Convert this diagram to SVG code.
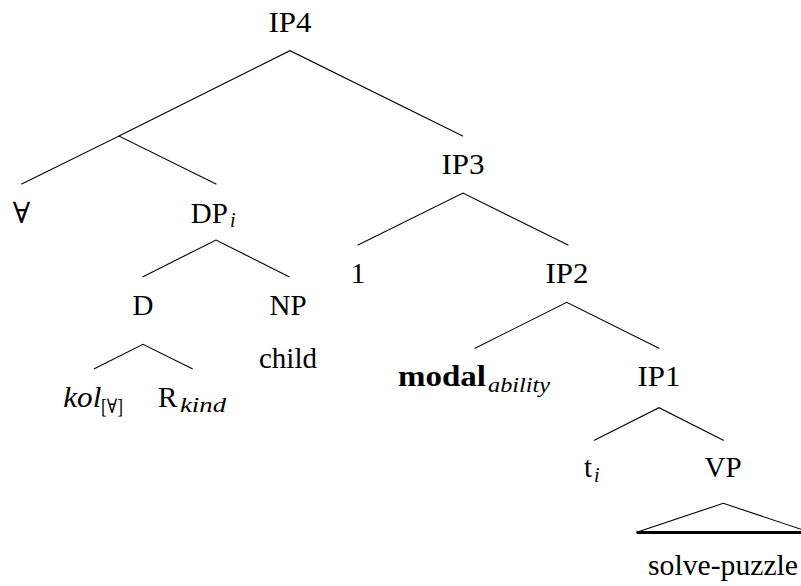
<svg xmlns="http://www.w3.org/2000/svg" width="801" height="586" viewBox="0 0 801 586">
<style>
text{font-family:'Liberation Serif','Times New Roman',Times,'DejaVu Serif',serif;font-size:29px;fill:#000}
.m{text-anchor:middle}
.it{font-style:italic}
.sub{font-size:20px}
.b{font-weight:bold}
.e{stroke:#000;stroke-width:1.1;fill:none;stroke-linecap:round}
.base{stroke:#000;stroke-width:2.8;fill:none}
</style>
<rect width="801" height="586" fill="#fff"/>
<g id="connectors">
<path class="e" d="M119,136 L290,50.7 L462.7,136"/>
<path class="e" d="M21.7,184 L119,136 L216,184"/>
<path class="e" d="M143,276.7 L216,240 L289,276.7"/>
<path class="e" d="M94.3,368.7 L143,344.3 L192.3,368.7"/>
<path class="e" d="M358,245 L463,193 L568,245"/>
<path class="e" d="M475,348.3 L566.7,302.3 L659,348.3"/>
<path class="e" d="M594.3,440.3 L659,407.7 L723.3,440.3"/>
<path class="e" d="M636.7,532.3 L723.3,503.3 L810,532.3"/>
<path class="base" d="M636.7,532.5 L810,532.5"/>
</g>
<g id="IP4"><text class="m" x="290" y="31.7" textLength="43" lengthAdjust="spacingAndGlyphs">IP4</text></g>
<g id="forall"><text class="m" x="21.5" y="222.7">∀</text></g>
<g id="DPi"><text x="190.7" y="222.7">DP</text><text class="sub it" x="230" y="226.5">i</text></g>
<g id="IP3"><text class="m" x="463" y="174" textLength="43" lengthAdjust="spacingAndGlyphs">IP3</text></g>
<g id="one"><text class="m" x="358" y="283">1</text></g>
<g id="IP2"><text class="m" x="567" y="283" textLength="43" lengthAdjust="spacingAndGlyphs">IP2</text></g>
<g id="D"><text class="m" x="143" y="315">D</text></g>
<g id="NP"><text class="m" x="288" y="315">NP</text></g>
<g id="child"><text class="m" x="288" y="368">child</text></g>
<g id="modal"><text class="b" x="398" y="386" textLength="88" lengthAdjust="spacingAndGlyphs">modal</text><text class="sub it" x="488" y="391.5" textLength="62" lengthAdjust="spacingAndGlyphs">ability</text></g>
<g id="IP1"><text class="m" x="659" y="386" textLength="43" lengthAdjust="spacingAndGlyphs">IP1</text></g>
<g id="kol"><text class="it" x="63.3" y="406.7" textLength="38" lengthAdjust="spacingAndGlyphs">kol</text><text class="sub" x="101" y="412.5" textLength="22" lengthAdjust="spacingAndGlyphs">[∀]</text></g>
<g id="Rkind"><text x="158" y="406.7">R</text><text class="sub it" x="180" y="411.5" textLength="46" lengthAdjust="spacingAndGlyphs">kind</text></g>
<g id="ti"><text x="584" y="476.7">t</text><text class="sub it" x="594" y="481.5">i</text></g>
<g id="VP"><text class="m" x="723" y="476.7">VP</text></g>
<g id="solve"><text class="m" x="723" y="575" textLength="150" lengthAdjust="spacingAndGlyphs">solve-puzzle</text></g>
</svg>
